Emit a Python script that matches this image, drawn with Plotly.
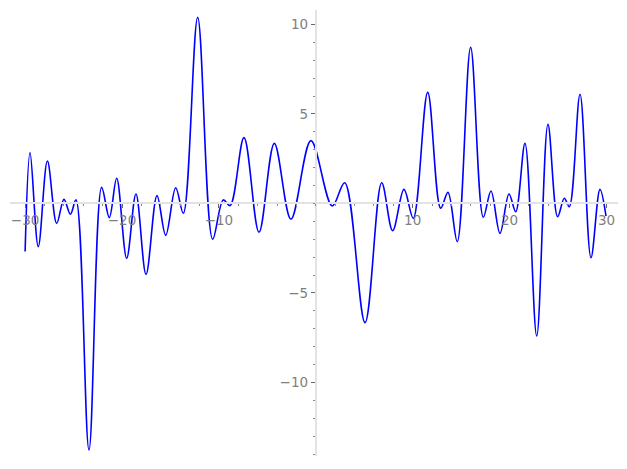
import plotly.graph_objects as go

# Curve: start, turning points, end
x_vals = [-30.0, -29.49, -28.64, -27.7, -26.74, -25.99, -25.33, -24.75, -23.41, -22.1,
          -21.31, -20.55, -19.52, -18.56, -17.52, -16.39, -15.49, -14.46, -13.67, -12.19,
          -10.64, -9.55, -8.85, -7.41, -5.86, -4.28, -2.56, -0.5, 1.7, 2.98,
          5.08, 6.8, 7.93, 9.1, 10.06, 11.55, 12.89, 13.64, 14.6, 15.98,
          17.29, 18.08, 19.01, 19.94, 20.63, 21.59, 22.8, 23.96, 24.96, 25.65,
          26.16, 27.27, 28.4, 29.33, 29.95]
y_vals = [-2.68, 2.84, -2.41, 2.37, -1.11, 0.23, -0.6, 0.2, -13.77, 0.9,
          -0.79, 1.41, -3.06, 0.53, -3.96, 0.44, -1.78, 0.88, -0.55, 10.4,
          -2.0, 0.2, -0.12, 3.68, -1.61, 3.36, -0.88, 3.51, -0.14, 1.16,
          -6.66, 1.16, -1.52, 0.79, -0.83, 6.21, -0.27, 0.62, -2.13, 8.72,
          -0.77, 0.7, -1.67, 0.53, -0.46, 3.36, -7.4, 4.42, -0.74, 0.29,
          -0.18, 6.1, -3.03, 0.79, -0.7]

x_ticks = [-30, -20, -10, 10, 20, 30]
y_ticks = [-10, -5, 5, 10]

x_range = [-31.56, 31.19]
y_range = [-14.11, 10.81]

fig = go.Figure()
fig.add_trace(go.Scatter(x=x_vals, y=y_vals, mode="lines",
                         line=dict(color="#0000ff", width=1.6, shape="spline", smoothing=1.0),
                         hoverinfo="skip"))

ypos = (0 - x_range[0]) / (x_range[1] - x_range[0])
xpos = (0 - y_range[0]) / (y_range[1] - y_range[0])

axis_common = dict(showgrid=False, zeroline=False, showline=True, linecolor="#e3e3e3",
                   linewidth=2, ticks="outside", ticklen=4, tickwidth=1, tickcolor="#666666",
                   tickfont=dict(family="DejaVu Sans", size=13.5, color="#7f7f7f"),
                   anchor="free", automargin=False)

fig.update_layout(
    width=627, height=469,
    margin=dict(l=2, r=17, t=2, b=21),
    plot_bgcolor="white", paper_bgcolor="white",
    showlegend=False,
    xaxis=dict(range=x_range, tickvals=x_ticks, position=xpos,
               minor=dict(dtick=2, tick0=0, ticklen=2, tickcolor="#888888", ticks="outside"),
               **axis_common),
    yaxis=dict(range=y_range, tickvals=y_ticks, position=ypos,
               minor=dict(dtick=1, tick0=0, ticklen=2, tickcolor="#888888", ticks="outside"),
               **axis_common),
)

fig.write_html("out.html")
